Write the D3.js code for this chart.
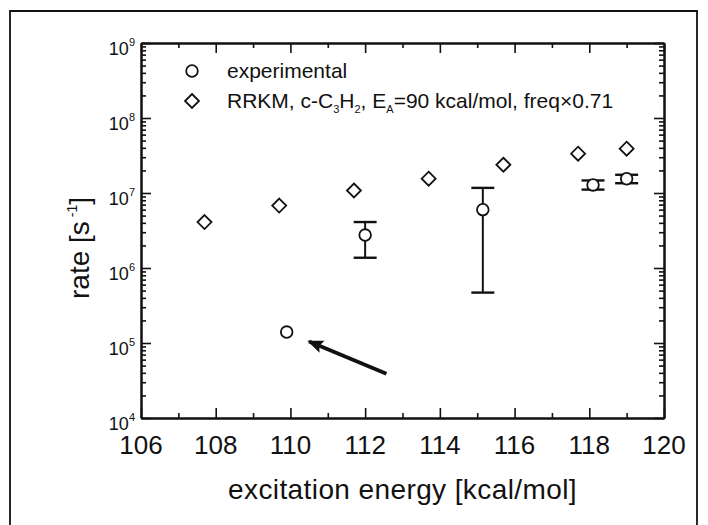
<!DOCTYPE html>
<html>
<head>
<meta charset="utf-8">
<script src="https://cdn.jsdelivr.net/npm/d3@7"></script>
<style>
  body { margin: 0; background: #fff; }
  svg { display: block; }
  text { font-family: "Liberation Sans", Arial, Helvetica, sans-serif; fill: #111; }
</style>
</head>
<body>
<div id="chart"></div>
<script>
// RRKM calculation (diamonds)
const rrkmEnergy = [107.7, 109.7, 111.7, 113.7, 115.7, 117.7, 119.0]
const rrkmRate = [4.1e6, 6.8e6, 1.08e7, 1.55e7, 2.38e7, 3.34e7, 3.9e7]

// experimental points (circles) with error bars
const expEnergy = [109.9, 112.0, 115.15, 118.1, 119.0]
const expRate = [1.4e5, 2.75e6, 6.0e6, 1.28e7, 1.55e7]
const expLow = [null, 1.37e6, 4.7e5, 1.11e7, 1.35e7]
const expHigh = [null, 4.1e6, 1.17e7, 1.47e7, 1.75e7]

// arrow pointing at the lowest point
const arrowFrom = [112.57, 3.9e4]
const arrowTo = [110.5, 1.05e5]

// ticks
const xMajorTicks = [106, 108, 110, 112, 114, 116, 118, 120]
const xMinorTicks = [107, 109, 111, 113, 115, 117, 119]
const yDecades = [4, 5, 6, 7, 8, 9]

const outerWidth = 708
const outerHeight = 525
const plotLeft = 141, plotRight = 664, plotTop = 43, plotBottom = 418

const svg = d3.select("#chart").append("svg")
    .attr("width", outerWidth)
    .attr("height", outerHeight)

// outer frame of the figure
svg.append("path")
    .attr("d", "M10,530 L10,11 L697,11 L697,530")
    .attr("fill", "none")
    .attr("stroke", "#111")
    .attr("stroke-width", 1.8)

const xScale = d3.scaleLinear().domain([106, 120]).range([plotLeft, plotRight])
const yScale = d3.scaleLog().domain([1e4, 1e9]).range([plotBottom, plotTop])

const yMajor = yDecades.map(d => Math.pow(10, d))
const yMinor = []
yDecades.slice(0, -1).forEach(d => {
    for (let k = 2; k <= 9; k++) yMinor.push(k * Math.pow(10, d))
})

// axes: four sides, ticks pointing inwards
function drawAxis(axisFn, scale, transform, values, size) {
    const g = svg.append("g")
        .attr("transform", transform)
        .call(axisFn(scale).tickValues(values).tickSize(size).tickSizeOuter(0).tickFormat(""))
    g.select(".domain").attr("stroke", "#111").attr("stroke-width", 2)
    g.selectAll(".tick line").attr("stroke", "#111").attr("stroke-width", 1.6)
    return g
}

drawAxis(d3.axisTop, xScale, `translate(0,${plotBottom})`, xMajorTicks, 10)
drawAxis(d3.axisTop, xScale, `translate(0,${plotBottom})`, xMinorTicks, 5)
drawAxis(d3.axisBottom, xScale, `translate(0,${plotTop})`, xMajorTicks, 10)
drawAxis(d3.axisBottom, xScale, `translate(0,${plotTop})`, xMinorTicks, 5)
drawAxis(d3.axisRight, yScale, `translate(${plotLeft},0)`, yMajor, 10)
drawAxis(d3.axisRight, yScale, `translate(${plotLeft},0)`, yMinor, 5)
drawAxis(d3.axisLeft, yScale, `translate(${plotRight},0)`, yMajor, 10)
drawAxis(d3.axisLeft, yScale, `translate(${plotRight},0)`, yMinor, 5)

// x tick labels
svg.selectAll(".xlabel").data(xMajorTicks).enter().append("text")
    .attr("class", "xlabel")
    .attr("x", d => xScale(d))
    .attr("y", plotBottom + 36)
    .attr("text-anchor", "middle")
    .style("font-size", "26px")
    .text(d => d)

// y tick labels 10^n
const yLabels = svg.selectAll(".ylabel").data(yDecades).enter().append("text")
    .attr("class", "ylabel")
    .attr("x", plotLeft - 6)
    .attr("y", d => yScale(Math.pow(10, d)) + 12)
    .attr("text-anchor", "end")
    .style("font-size", "18px")
yLabels.append("tspan").text("10")
yLabels.append("tspan").attr("dy", -9).style("font-size", "11px").text(d => d)

// axis titles
svg.append("text")
    .attr("x", (plotLeft + plotRight) / 2)
    .attr("y", 499)
    .attr("text-anchor", "middle")
    .style("font-size", "28px")
    .style("letter-spacing", "0.4px")
    .text("excitation energy [kcal/mol]")

const yTitle = svg.append("text")
    .attr("transform", "translate(89,248) rotate(-90)")
    .attr("text-anchor", "middle")
    .style("font-size", "28px")
yTitle.append("tspan").text("rate [s")
yTitle.append("tspan").attr("dy", -12).style("font-size", "14px").text(" -1")
yTitle.append("tspan").attr("dy", 12).text("]")

// error bars
const expData = expEnergy.map((e, i) => ({e: e, r: expRate[i], lo: expLow[i], hi: expHigh[i]}))
const withErr = expData.filter(d => d.lo !== null)
const capHalf = 11.5

svg.selectAll(".err").data(withErr).enter().append("line")
    .attr("x1", d => xScale(d.e)).attr("x2", d => xScale(d.e))
    .attr("y1", d => yScale(d.lo)).attr("y2", d => yScale(d.hi))
    .attr("stroke", "#111").attr("stroke-width", 2)
svg.selectAll(".capLo").data(withErr).enter().append("line")
    .attr("x1", d => xScale(d.e) - capHalf).attr("x2", d => xScale(d.e) + capHalf)
    .attr("y1", d => yScale(d.lo)).attr("y2", d => yScale(d.lo))
    .attr("stroke", "#111").attr("stroke-width", 2.4)
svg.selectAll(".capHi").data(withErr).enter().append("line")
    .attr("x1", d => xScale(d.e) - capHalf).attr("x2", d => xScale(d.e) + capHalf)
    .attr("y1", d => yScale(d.hi)).attr("y2", d => yScale(d.hi))
    .attr("stroke", "#111").attr("stroke-width", 2.4)

// experimental circles
svg.selectAll(".exp").data(expData).enter().append("circle")
    .attr("cx", d => xScale(d.e))
    .attr("cy", d => yScale(d.r))
    .attr("r", 5.8)
    .attr("fill", "#fff")
    .attr("stroke", "#111")
    .attr("stroke-width", 1.8)

// RRKM diamonds
const diamond = "M0,-7 L7,0 L0,7 L-7,0 Z"
svg.selectAll(".rrkm").data(rrkmEnergy).enter().append("path")
    .attr("d", diamond)
    .attr("transform", (d, i) => `translate(${xScale(d)},${yScale(rrkmRate[i])})`)
    .attr("fill", "#fff")
    .attr("stroke", "#111")
    .attr("stroke-width", 1.8)

// arrow
svg.append("defs").append("marker")
    .attr("id", "head")
    .attr("markerUnits", "userSpaceOnUse")
    .attr("viewBox", "0 -7 16 14")
    .attr("refX", 14).attr("refY", 0)
    .attr("markerWidth", 16).attr("markerHeight", 14)
    .attr("orient", "auto")
    .append("path")
    .attr("d", "M0,-6.5 L16,0 L0,6.5 L3,0 Z")
    .attr("fill", "#111")

svg.append("line")
    .attr("x1", xScale(arrowFrom[0])).attr("y1", yScale(arrowFrom[1]))
    .attr("x2", xScale(arrowTo[0])).attr("y2", yScale(arrowTo[1]))
    .attr("stroke", "#111")
    .attr("stroke-width", 3.8)
    .attr("marker-end", "url(#head)")

// legend
const legendX = 192
svg.append("circle").attr("cx", legendX).attr("cy", 71).attr("r", 5.8)
    .attr("fill", "#fff").attr("stroke", "#111").attr("stroke-width", 1.8)
svg.append("text").attr("x", 227).attr("y", 78).style("font-size", "21px").text("experimental")

svg.append("path").attr("d", diamond).attr("transform", `translate(${legendX},101)`)
    .attr("fill", "#fff").attr("stroke", "#111").attr("stroke-width", 1.8)
const leg2 = svg.append("text").attr("x", 227).attr("y", 108).style("font-size", "21px")
leg2.append("tspan").text("RRKM, c-C")
leg2.append("tspan").attr("dy", 5).style("font-size", "11px").text("3")
leg2.append("tspan").attr("dy", -5).text("H")
leg2.append("tspan").attr("dy", 5).style("font-size", "11px").text("2")
leg2.append("tspan").attr("dy", -5).text(", E")
leg2.append("tspan").attr("dy", 5).style("font-size", "11px").text("A")
leg2.append("tspan").attr("dy", -5).text("=90 kcal/mol, freq×0.71")
</script>
</body>
</html>
